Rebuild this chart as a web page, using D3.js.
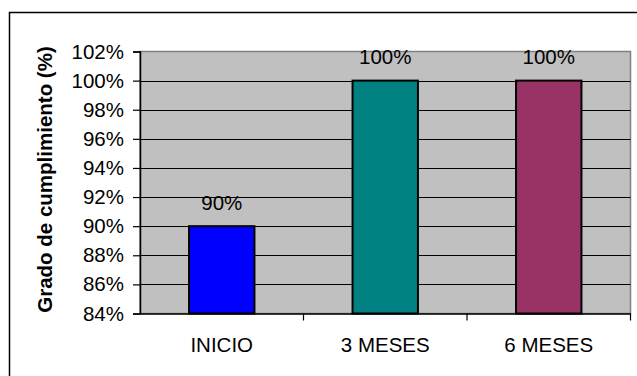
<!DOCTYPE html>
<html>
<head>
<meta charset="utf-8">
<script src="https://cdn.jsdelivr.net/npm/d3@7/dist/d3.min.js"></script>
<style>
  html, body { margin: 0; padding: 0; background: #fff; }
  svg { display: block; }
  text { font-family: "Liberation Sans", Arial, sans-serif; fill: #000; }
</style>
</head>
<body>
<svg id="chart" width="637" height="376"></svg>
<script>
// Compliance grade by follow-up stage
const categories = ["INICIO", "3 MESES", "6 MESES"];
const values = [90, 100, 100];
const barColors = ["#0000FF", "#008080", "#993366"];
const yTicks = [84, 86, 88, 90, 92, 94, 96, 98, 100, 102];
const yTitle = "Grado de cumplimiento (%)";

const FONT = 20.5;
const svg = d3.select("#chart");
const W = 637, H = 376;

// outer frame (runs off the right and bottom edges)
svg.append("rect")
  .attr("x", 9.5).attr("y", 12.5)
  .attr("width", W).attr("height", H)
  .attr("fill", "#fff")
  .attr("stroke", "#000").attr("stroke-width", 1.5);

const plot = { left: 140, right: 630.5, top: 51.5, bottom: 313.5 };

const x = d3.scaleBand()
  .domain(categories)
  .range([plot.left, plot.right])
  .padding(0);

const y = d3.scaleLinear()
  .domain([84, 102])
  .range([plot.bottom, plot.top]);

// plot background
svg.append("rect")
  .attr("x", plot.left).attr("y", plot.top)
  .attr("width", plot.right - plot.left)
  .attr("height", plot.bottom - plot.top)
  .attr("fill", "#C0C0C0")
  .attr("stroke", "#808080").attr("stroke-width", 1.5);

// horizontal gridlines
svg.append("g")
  .selectAll("line")
  .data(yTicks.filter(t => t > 84 && t < 102))
  .join("line")
  .attr("x1", plot.left).attr("x2", plot.right)
  .attr("y1", d => Math.round(y(d)) + 0.5)
  .attr("y2", d => Math.round(y(d)) + 0.5)
  .attr("stroke", "#000").attr("stroke-width", 1);

// bars
const barW = x.bandwidth() * 0.4;
svg.append("g")
  .selectAll("rect")
  .data(categories)
  .join("rect")
  .attr("x", d => x(d) + (x.bandwidth() - barW) / 2)
  .attr("y", (d, i) => y(values[i]))
  .attr("width", barW)
  .attr("height", (d, i) => y(84) - y(values[i]))
  .attr("fill", (d, i) => barColors[i])
  .attr("stroke", "#000").attr("stroke-width", 2);

// value labels
svg.append("g")
  .selectAll("text")
  .data(categories)
  .join("text")
  .attr("x", d => x(d) + x.bandwidth() / 2)
  .attr("y", (d, i) => y(values[i]) - 16.5)
  .attr("text-anchor", "middle")
  .attr("font-size", FONT)
  .text((d, i) => values[i] + "%");

// y axis
const yAxis = d3.axisLeft(y)
  .tickValues(yTicks)
  .tickSize(7)
  .tickPadding(9)
  .tickFormat(d => d + "%");
const gy = svg.append("g")
  .attr("transform", `translate(${plot.left},0)`)
  .call(yAxis);
gy.select(".domain").attr("stroke", "#000").attr("stroke-width", 1.5);
gy.selectAll(".tick line").attr("stroke", "#000").attr("stroke-width", 1.2);
gy.selectAll(".tick text")
  .attr("font-size", FONT)
  .attr("font-family", "Liberation Sans, Arial, sans-serif")
  .attr("fill", "#000");

// x axis
const xAxis = d3.axisBottom(x)
  .tickSize(0)
  .tickPadding(0)
  .tickSizeOuter(0);
const gx = svg.append("g")
  .attr("transform", `translate(0,${plot.bottom})`)
  .call(xAxis);
gx.select(".domain").attr("stroke", "#000").attr("stroke-width", 1.5);
gx.selectAll(".tick text")
  .attr("font-size", FONT)
  .attr("font-family", "Liberation Sans, Arial, sans-serif")
  .attr("fill", "#000")
  .attr("dy", null)
  .attr("y", 38);

// category separators below the axis
svg.append("g")
  .selectAll("line")
  .data(categories)
  .join("line")
  .attr("x1", d => x(d) + x.bandwidth())
  .attr("x2", d => x(d) + x.bandwidth())
  .attr("y1", plot.bottom)
  .attr("y2", plot.bottom + 7)
  .attr("stroke", "#000").attr("stroke-width", 1.2);

// y axis title
svg.append("text")
  .attr("transform", `translate(52,${(plot.top + plot.bottom) / 2 - 3}) rotate(-90)`)
  .attr("text-anchor", "middle")
  .attr("font-size", FONT)
  .attr("font-weight", "bold")
  .text(yTitle);
</script>
</body>
</html>
